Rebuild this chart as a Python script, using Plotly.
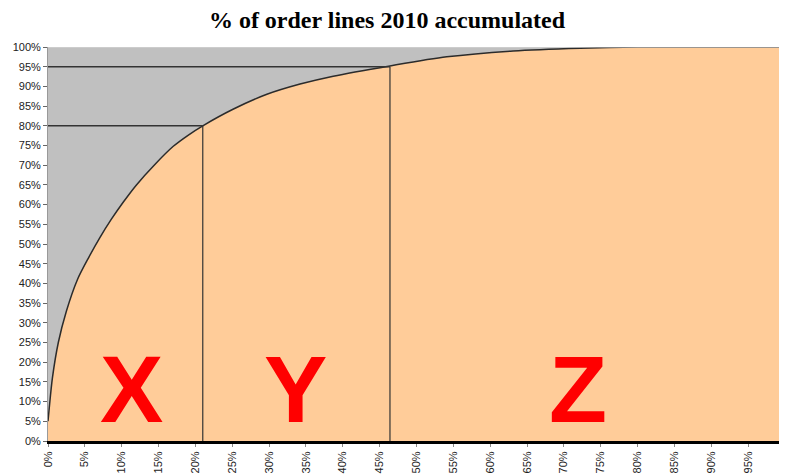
import plotly.graph_objects as go

# Cumulative curve: % of items (x) vs % of order lines accumulated (y)
x_pct = [0, 0.15, 0.6, 1.4, 2.5, 4.0, 5.5, 7.0, 8.6, 10.2, 12.0, 14.5, 17.0, 19.0, 21.0,
         25.1, 29.7, 34.2, 38.7, 46.4, 54.1, 63.1, 72.2, 80.0, 90.0, 100.0]
y_pct = [5.0, 8.0, 16.0, 25.0, 33.0, 41.0, 46.5, 51.5, 56.3, 60.6, 65.0, 70.2, 74.8, 77.6, 80.0,
         84.2, 88.0, 90.6, 92.6, 95.2, 97.5, 99.0, 99.7, 100.0, 100.0, 100.0]

# XYZ class boundaries
bound_x = [21.0, 46.4]
bound_y = [80.0, 95.0]

# Class labels
class_names = ["X", "Y", "Z"]
class_x = [11.3, 33.6, 71.9]
class_y = [13.3, 13.3, 13.3]

tick_vals = list(range(0, 101, 5))
tick_text = [f"{v}%" for v in tick_vals]

fig = go.Figure()

fig.add_trace(go.Scatter(
    x=x_pct, y=y_pct, mode="lines",
    line=dict(color="#2b2b2b", width=1.5, shape="spline", smoothing=0.8),
    fill="tozeroy", fillcolor="#FFCC99", hoverinfo="skip", showlegend=False))

for bx, by in zip(bound_x, bound_y):
    fig.add_trace(go.Scatter(x=[0, bx], y=[by, by], mode="lines",
                             line=dict(color="#333333", width=1.5), showlegend=False, hoverinfo="skip"))
    fig.add_trace(go.Scatter(x=[bx, bx], y=[0, by], mode="lines",
                             line=dict(color="#333333", width=1.2), showlegend=False, hoverinfo="skip"))

for name, cx, cy in zip(class_names, class_x, class_y):
    fig.add_annotation(x=cx, y=cy, text=f"<b>{name}</b>", showarrow=False,
                       font=dict(family="Liberation Sans, Arial", size=95, color="#FF0000"),
                       xanchor="center", yanchor="middle")

fig.update_layout(
    width=779, height=466,
    margin=dict(l=40, r=0, t=39, b=33),
    paper_bgcolor="white",
    plot_bgcolor="#C0C0C0",
    title=dict(text="<b>% of order lines 2010 accumulated</b>", x=0.4865, xref="container",
               xanchor="center", y=0.976, yref="container", yanchor="middle",
               font=dict(family="Liberation Serif, Times New Roman", size=24, color="#000")),
    font=dict(family="Liberation Sans, Arial", size=11, color="#222"),
)

fig.update_xaxes(
    range=[0, 100.27], tickmode="array", tickvals=tick_vals, ticktext=tick_text,
    tickangle=-90, ticks="outside", ticklen=3, tickcolor="#888",
    showgrid=False, zeroline=False, showline=True, linecolor="#000", linewidth=3,
    automargin=False, tickfont=dict(size=11, color="#222"))

fig.update_yaxes(
    range=[0, 100], tickmode="array", tickvals=tick_vals, ticktext=tick_text,
    ticks="outside", ticklen=4, tickcolor="#666",
    showgrid=False, zeroline=False, showline=True, linecolor="#999", linewidth=1,
    automargin=False, tickfont=dict(size=11, color="#222"))

# light top border of plot area
fig.add_shape(type="line", xref="paper", yref="y", x0=0, x1=1, y0=100, y1=100,
              line=dict(color="#d8d8d8", width=1))

fig.write_html("out.html")
